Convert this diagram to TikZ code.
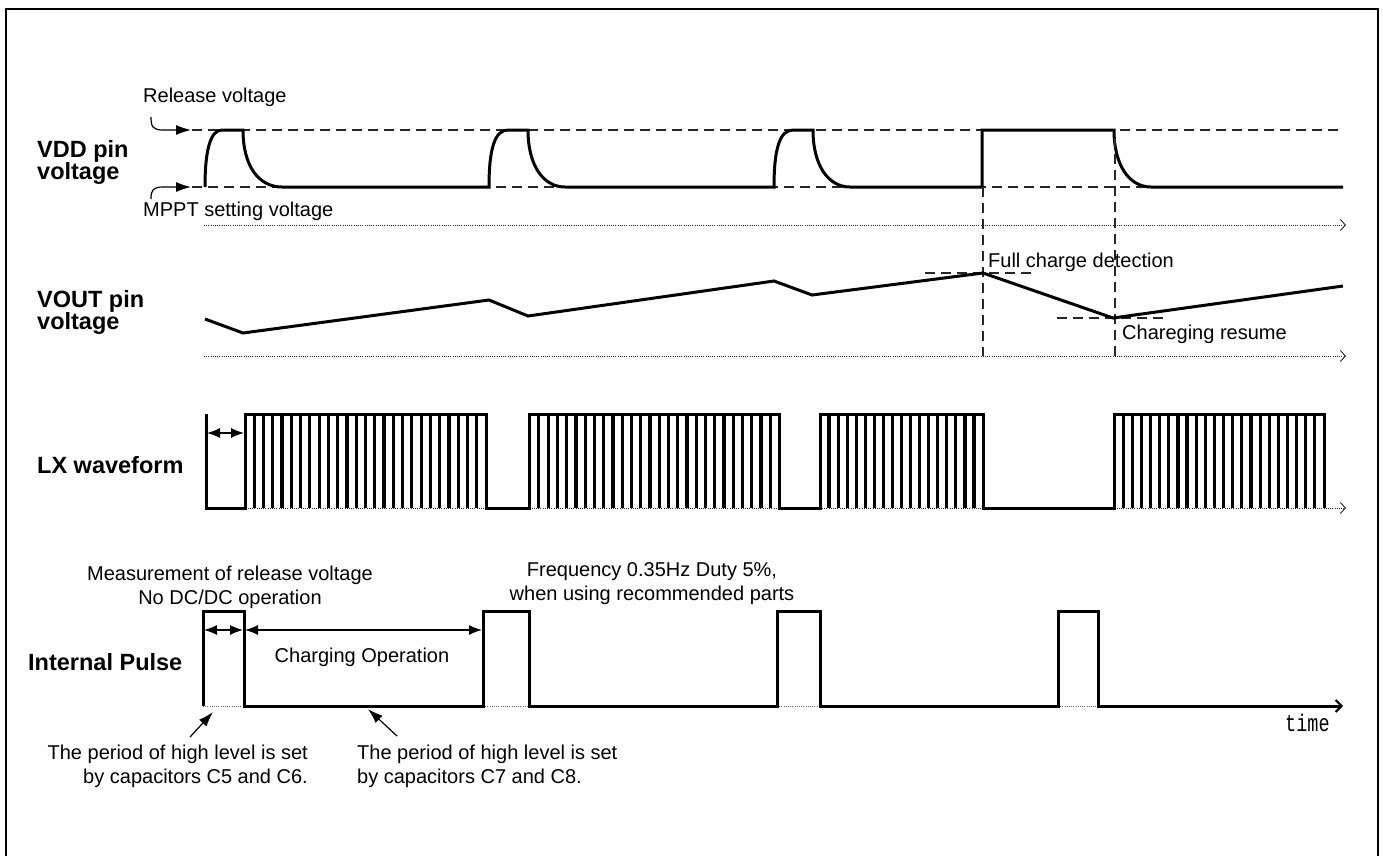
\documentclass[tikz,border=0pt]{standalone}
\usepackage{fontspec}
\setmainfont{Liberation Sans}
\newfontfamily\monof{Liberation Mono}
\usetikzlibrary{arrows.meta}
\begin{document}
\begin{tikzpicture}[x=1pt,y=-1pt,
  txt/.style={font=\fontsize{20}{24}\selectfont, inner sep=0pt},
  lbl/.style={font=\fontsize{23.5}{24}\selectfont\bfseries, inner sep=0pt, anchor=base west},
  wave/.style={line width=3pt, line join=miter},
  bar/.style={line width=3.2pt},
  guide/.style={line width=1.3pt, dash pattern=on 10pt off 6pt, draw=black!85},
  axis/.style={line width=1pt, dash pattern=on 1pt off 1.2pt, draw=black!85, -{Straight Barb[length=5pt,width=11pt,line width=0.9pt]}},
  dotline/.style={line width=1pt, dash pattern=on 1pt off 1.2pt, draw=black!60},
  dimarr/.style={line width=1.2pt, {Latex[length=13pt,width=10pt]}-{Latex[length=13pt,width=10pt]}},
  ptr/.style={line width=1.2pt, -{Latex[length=15pt,width=10pt]}},
]
\useasboundingbox (0,0) rectangle (1383,855);
% frame
\draw[line width=2.4pt] (6,856) -- (6,9) -- (1378,9) -- (1378,856);

% ---------- labels ----------
\node[lbl] (vdd1) at (37,157) {VDD pin};
\node[lbl] (vdd2) at (37,179) {voltage};
\node[lbl] (vout1) at (37,307) {VOUT pin};
\node[lbl] (vout2) at (37,329) {voltage};
\node[lbl] (lx) at (37,473) {LX waveform};
\node[lbl] (ip) at (28,670) {Internal Pulse};

% ---------- VDD ----------
\draw[guide] (192,130) -- (1342,130);
\draw[guide] (192,187) -- (1342,187);
\node[txt, anchor=base west] (rel) at (143,102) {Release voltage};
\node[txt, anchor=base west] (mppt) at (143,216) {MPPT setting voltage};
\coordinate (relS) at (151,117);
\coordinate (relT) at (191,130);
\coordinate (mpS) at (151,199);
\coordinate (mpT) at (191,187);
\draw[ptr] (relS) .. controls (151,127) and (153,130) .. (163,130) -- (relT);
\draw[ptr] (mpS) .. controls (151,190) and (153,187) .. (163,187) -- (mpT);
\draw[axis] (204,225) -- (1346,225);
\draw[wave] (205,187) .. controls (205,148) and (211,130) .. (222,130) -- (243,130)
  .. controls (243,165) and (258,187) .. (282,187) -- (489,187)
  .. controls (489,148) and (495,130) .. (508,130) -- (528,130)
  .. controls (528,165) and (543,187) .. (565,187) -- (774,187)
  .. controls (774,148) and (780,130) .. (793,130) -- (813,130)
  .. controls (813,165) and (828,187) .. (850,187) -- (982,187) -- (982,130) -- (1114,130)
  .. controls (1114,165) and (1129,187) .. (1151,187) -- (1343,187);

% ---------- VOUT ----------
\draw[guide] (983,187) -- (983,356);
\draw[guide] (1115,138) -- (1115,356);
\draw[guide] (925,273) -- (1035,273);
\draw[guide] (1057,318) -- (1168,318);
\draw[axis] (204,356) -- (1346,356);
\draw[wave] (205,319) -- (243,333) -- (489,300) -- (528,316) -- (774,281) -- (812,295)
  -- (983,273) -- (1113,318) -- (1343,286);
\node[txt, anchor=base west] (fcd) at (988,267) {Full charge detection};
\node[txt, anchor=base west] (cres) at (1122,339) {Chareging resume};

% ---------- LX ----------
\draw[axis] (206,508) -- (1346,508);
\draw[wave] (206,414) -- (206,508) -- (245,508) -- (245,414) -- (486,414) -- (486,508)
  -- (529.6,508) -- (529.6,414) -- (779.6,414) -- (779.6,508) -- (820,508) -- (820,414)
  -- (983,414) -- (983,508) -- (1114,508) -- (1114,414) -- (1324,414) -- (1324,508);
\foreach \a/\b/\n in {245/486/26, 529.6/779.6/27, 820/983/18, 1114/1324/23}{
  \pgfmathsetmacro{\s}{(\b-\a)/\n}
  \pgfmathtruncatemacro{\m}{\n-1}
  \foreach \k in {1,...,\m}{
    \draw[bar] ({\a+\k*\s},414) -- ({\a+\k*\s},508);
  }
}
\draw[dimarr] (207,433) -- (244,433);

% ---------- Internal pulse ----------
\draw[dotline] (203,706) -- (244,706);
\draw[dotline] (483,706) -- (529,706);
\draw[dotline] (777,706) -- (820,706);
\draw[dotline] (1058,706) -- (1098,706);
\draw[wave, -{Straight Barb[length=6pt,width=12pt,line width=2pt]}] (203,706) -- (203,611) -- (244,611) -- (244,706) -- (483,706)
  -- (483,611) -- (529,611) -- (529,706) -- (777,706) -- (777,611) -- (820,611) -- (820,706)
  -- (1058,706) -- (1058,611) -- (1098,611) -- (1098,706) -- (1343,706);
\draw[dimarr] (204,630) -- (243,630);
\draw[dimarr] (245,630) -- (482,630);

\node[txt, anchor=base] (meas1) at (230,580) {Measurement of release voltage};
\node[txt, anchor=base] (meas2) at (230,604) {No DC/DC operation};
\node[txt, anchor=base] (freq1) at (652,576) {Frequency 0.35Hz Duty 5\%,};
\node[txt, anchor=base] (freq2) at (652,600) {when using recommended parts};
\node[txt, anchor=base] (chg) at (362,662) {Charging Operation};

\node[txt, anchor=base east] (c5a) at (308,759) {The period of high level is set};
\node[txt, anchor=base east] (c5b) at (308,783) {by capacitors C5 and C6.};
\node[txt, anchor=base west] (c7a) at (357,759) {The period of high level is set};
\node[txt, anchor=base west] (c7b) at (357,783) {by capacitors C7 and C8.};
\coordinate (c5s) at (190,737);
\coordinate (c5t) at (213,712);
\coordinate (c7s) at (397,736);
\coordinate (c7t) at (368,709);
\draw[ptr] (c5s) -- (c5t);
\draw[ptr] (c7s) -- (c7t);

\node[inner sep=0pt, anchor=base west, font=\monof\fontsize{18.5}{20}\selectfont] (time) at (1285,731) {\scalebox{1}[1.3]{time}};
\end{tikzpicture}
\end{document}
